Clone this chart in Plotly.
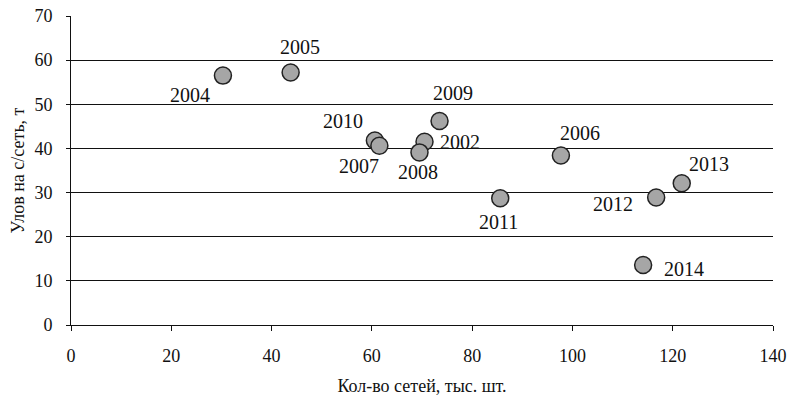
import plotly.graph_objects as go

years = ["2004", "2005", "2010", "2007", "2009", "2002", "2008", "2011", "2006", "2012", "2013", "2014"]
nets = [30.3, 43.8, 60.6, 61.5, 73.5, 70.5, 69.5, 85.6, 97.7, 116.7, 121.8, 114.1]
catch = [56.5, 57.2, 41.8, 40.6, 46.2, 41.5, 39.1, 28.7, 38.4, 28.9, 32.1, 13.6]
x_ticks = [0, 20, 40, 60, 80, 100, 120, 140]
y_ticks = [0, 10, 20, 30, 40, 50, 60, 70]

label_shift = {
    "2004": (-33, -19), "2005": (9, 26), "2010": (-32, 19), "2007": (-20, -20),
    "2009": (13, 28), "2002": (35, 0), "2008": (-1, -20), "2011": (-2, -24),
    "2006": (19, 22), "2012": (-43, -7), "2013": (27, 19), "2014": (41, -4),
}

font = "Liberation Serif"

fig = go.Figure()
fig.add_trace(go.Scatter(
    x=nets, y=catch, mode="markers",
    marker=dict(size=17, color="#a6a6a6", line=dict(color="#222222", width=1.5)),
    showlegend=False, hoverinfo="skip",
))

for yr, xv, yv in zip(years, nets, catch):
    dx, dy = label_shift[yr]
    fig.add_annotation(x=xv, y=yv, xref="x", yref="y", text=yr, showarrow=False,
                       xshift=dx, yshift=dy, font=dict(family=font, size=20, color="#111111"))

fig.update_layout(
    width=792, height=401,
    margin=dict(l=71, r=19, t=16, b=76),
    paper_bgcolor="white", plot_bgcolor="white",
    font=dict(family=font, size=18, color="#111111"),
)
fig.update_xaxes(
    range=[0, 140], tickvals=x_ticks, showgrid=False, zeroline=False, automargin=False,
    showline=True, linecolor="#111111", linewidth=1,
    ticks="outside", ticklen=5, tickcolor="#111111", ticklabelstandoff=9,
    title=dict(text="Кол-во сетей, тыс. шт.", font=dict(family=font, size=18), standoff=14),
    tickfont=dict(family=font, size=18),
)
fig.update_yaxes(
    range=[0, 70], tickvals=y_ticks, showgrid=True, gridcolor="#111111", gridwidth=1,
    zeroline=False, automargin=False, showline=True, linecolor="#111111", linewidth=1,
    ticks="outside", ticklen=4, tickcolor="#111111", ticklabelstandoff=10,
    title=dict(text="Улов на с/сеть, т", font=dict(family=font, size=18), standoff=5),
    tickfont=dict(family=font, size=18),
)

fig.write_html("out.html", config={"displayModeBar": False},
               post_script="document.body.style.margin='0';document.body.style.overflow='hidden';")
